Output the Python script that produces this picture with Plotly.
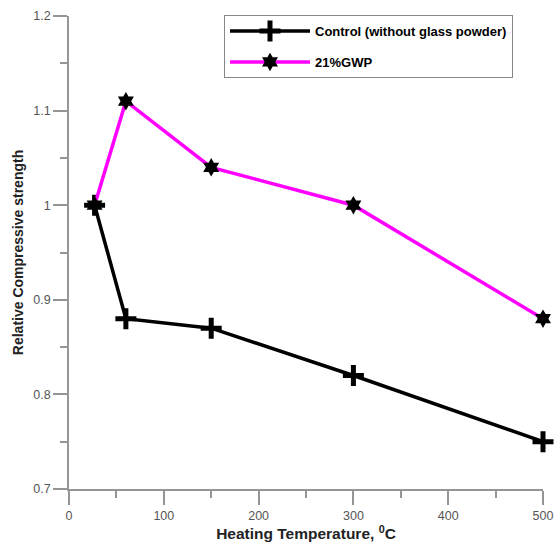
import plotly.graph_objects as go

temps = [27, 60, 150, 300, 500]
control = [1.0, 0.88, 0.87, 0.82, 0.75]
gwp = [1.0, 1.11, 1.04, 1.0, 0.88]
names = ["Control (without glass powder)", "21%GWP"]

fig = go.Figure()
fig.add_trace(go.Scatter(
    x=temps, y=control, name=names[0], mode="lines+markers", legendgroup="a",
    line=dict(color="black", width=3.5),
    marker=dict(symbol="cross-thin", size=15, line=dict(color="black", width=5)),
    cliponaxis=False))
fig.add_trace(go.Scatter(
    x=temps, y=gwp, name=names[1], mode="lines+markers", legendgroup="b",
    line=dict(color="#ff00ff", width=3.5),
    marker=dict(symbol="hexagram", size=14, color="black", line=dict(width=0)),
    cliponaxis=False))

axis_common = dict(
    showline=True, linecolor="#959595", linewidth=1.5,
    ticks="outside", ticklen=14, tickwidth=1.5, tickcolor="#959595",
    showgrid=False, zeroline=False, automargin=False,
    tickfont=dict(family="Liberation Sans, Arial", size=12.5, color="#555"),
)

fig.update_xaxes(range=[0, 500], dtick=100, tick0=0,
                 minor=dict(ticks="outside", ticklen=7, dtick=50, tickcolor="#959595", tickwidth=1.5),
                 title=dict(text="<b>Heating Temperature, <sup>0</sup>C</b>",
                            font=dict(family="Liberation Sans, Arial", size=15.5, color="#222"),
                            standoff=2),
                 **axis_common)
fig.update_yaxes(range=[0.7, 1.2], dtick=0.1, tick0=0.7,
                 minor=dict(ticks="outside", ticklen=7, dtick=0.05, tickcolor="#959595", tickwidth=1.5),
                 title=dict(text="<b>Relative Compressive strength</b>",
                            font=dict(family="Liberation Sans, Arial", size=14, color="#222"),
                            standoff=6),
                 **axis_common)

fig.update_layout(
    width=554, height=546,
    margin=dict(l=69, r=11, t=16, b=57),
    paper_bgcolor="white", plot_bgcolor="white",
    showlegend=True,
    legend=dict(x=0.327, y=1.002, xanchor="left", yanchor="top",
                bordercolor="#888", borderwidth=1, bgcolor="white",
                font=dict(family="Liberation Sans, Arial", size=13, color="black", weight="bold"),
                traceorder="grouped", tracegroupgap=11, itemwidth=80),
)

fig.write_html("out.html")
